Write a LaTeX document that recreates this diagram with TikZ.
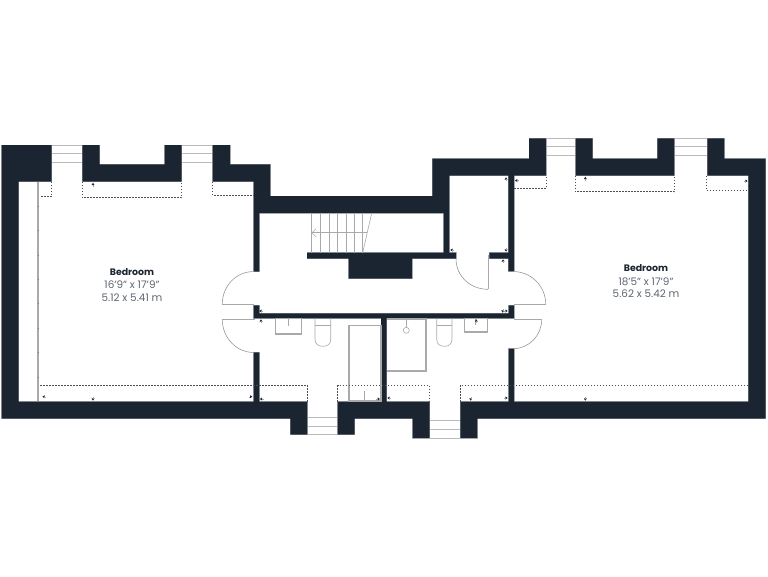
\documentclass[tikz,border=0pt]{standalone}
\usepackage{fontspec}
\setmainfont{Poppins}
\definecolor{wall}{HTML}{1B2431}
\definecolor{edge}{HTML}{B9BEC4}
\definecolor{fix}{HTML}{A9A9A9}
\definecolor{txt}{HTML}{5E6671}
\tikzset{
  wallfill/.style={fill=wall,preaction={draw=edge,line width=0.7pt}},
  fixture/.style={draw=fix,line width=0.6pt},
  fixturethick/.style={draw=fix,line width=1.4pt},
  recess/.style={draw=wall!80,line width=0.6pt,dash pattern=on 1.5pt off 1.5pt},
  winline/.style={draw=fix!80,line width=0.8pt},
  door/.style={draw=fix!90!black,line width=0.6pt},
  leaf/.style={draw=fix,line width=1.1pt},
  title/.style={font=\bfseries\fontsize{9.4}{11}\selectfont,text=wall,inner sep=0pt},
  dims/.style={font=\fontsize{10.4}{12}\selectfont,text=txt,inner sep=0pt},
}
\newcommand{\mk}[3]{\fill[wall,shift={(#1,#2)},rotate=#3] (1.7,0)--(-0.6,1.5)--(-0.6,-1.5)--cycle;\draw[fix,line width=0.3pt,shift={(#1,#2)},rotate=#3] (-0.4,0)--(-2,0);}
\begin{document}
\begin{tikzpicture}[x=1pt,y=-1pt]
\useasboundingbox (0,0) rectangle (768,576);
\fill[white] (0,0) rectangle (768,576);
% window frames
\foreach \xa/\xb/\ya/\yb/\yc in {51.7/82.3/145/153.3/162, 181.5/212.7/145/153.3/162, 546/575.7/138.3/146.7/155, 674.3/707.3/138.3/146.7/155, 307.3/337.7/417.3/426/434.7, 429.7/460.3/420.7/429.3/438}{
  \draw[winline] (\xa,\ya)--(\xb,\ya) (\xa,\yb)--(\xb,\yb) (\xa,\yc)--(\xb,\yc);
}
% walls
\path[wallfill]
 (1.5,145) rectangle (51.7,181.7)
 (1.5,145) rectangle (18.5,418.7)
 (1.5,401.5) rectangle (290.3,418.7)
 (290.3,401.5) rectangle (307.3,434.7)
 (337.7,401.5) rectangle (354.7,434.7)
 (337.7,401.5) rectangle (412.7,418.7)
 (412.7,401.5) rectangle (429.7,438)
 (460.3,401.5) rectangle (477.3,438)
 (460.3,401.5) rectangle (765.7,418.7)
 (748.3,158.5) rectangle (765.7,418.7)
 (707.3,138.3) rectangle (724.3,175.7)
 (707.3,158.5) rectangle (765.7,175.7)
 (575.7,138.3) rectangle (592.7,175.7)
 (657.3,138.3) rectangle (674.3,175.7)
 (575.7,158.5) rectangle (674.3,175.7)
 (529,138.3) rectangle (546,175.7)
 (432.3,158.5) rectangle (546,175.7)
 (432.3,158.5) rectangle (449.3,213)
 (253.7,196) rectangle (449.3,213)
 (253.7,181) rectangle (270.3,213)
 (212.7,145) rectangle (230,181.7)
 (212.7,164.3) rectangle (270.3,181.7)
 (82.3,145) rectangle (99.5,181.7)
 (164.5,145) rectangle (181.5,181.7)
 (82.3,164.3) rectangle (181.5,181.7)
 (253.7,181) rectangle (259.3,271.5)
 (443.7,213) rectangle (449.3,258.7)
 (508.3,175) rectangle (514,271.3)
 (307,252.7) rectangle (456,258.7)
 (489.3,252.7) rectangle (508.3,258.7)
 (348.7,258.7) rectangle (412,278.7)
 (253.7,313.3) rectangle (514,318.3)
 (253.7,305.3) rectangle (259.3,318.3)
 (508.7,305.3) rectangle (514,318.3)
 (253.7,352.3) rectangle (259.3,401.7)
 (508.7,348.7) rectangle (514,401.7)
 (381,318) rectangle (386.7,401.7);
% partition on left
\draw[fix,line width=2pt] (38.3,181.7)--(38.3,401.3);
\foreach \y in {206,230.5,255,279,303.5,328,352.5,377}{\draw[fix!70!black,line width=0.4pt] (37.6,\y)--(39,\y);}
% stairs
\foreach \x in {311.7,320.3,329,337.3,346,354.7,362.7}{\draw[fixture] (\x,213)--(\x,252.7);}
\draw[fixture] (371.7,213)--(362.7,252.7);
\draw[fixture] (312,232.7)--(366.7,232.7);
\draw[fixture] (316,228.7)--(312,232.7)--(316,236.7);
% doors
\draw[door] (222.3,304) .. controls (222.3,286) and (236,271.5) .. (254,271.5);
\draw[door] (222.3,319.5) .. controls (222.3,337.5) and (236,352.5) .. (254,352.5);
\draw[door] (545.7,304) .. controls (545.7,286) and (531,271.5) .. (513,271.5);
\draw[door] (541.7,319.5) .. controls (541.7,335.5) and (529,348.7) .. (513,348.7);
\draw[door] (456,258.7) .. controls (456,276) and (470,289.3) .. (488,289.3);
\draw[leaf] (222.3,304.3)--(254,304.3);
\draw[leaf] (222.3,319.5)--(255,319.5);
\draw[leaf] (514,304.3)--(545.7,304.3);
\draw[leaf] (514,319.5)--(541.7,319.5);
\draw[leaf] (488.5,255)--(488.5,289.3);
% sinks
\draw[fixturethick] (275.7,318.6) rectangle (301.7,334);
\draw[fixture] (288.7,318.3)--(288.7,326);
\draw[fixturethick] (464.7,318.6) rectangle (487.7,332);
\draw[fixture] (475.3,318.3)--(475.3,325);
% toilets
\foreach \xa/\xb in {315/330.7,436.7/452}{
  \draw[fixture] (\xa,318.3)--(\xa,339) .. controls (\xa,344) and (\xa+3,346.3) .. (\xa/2+\xb/2,346.3) .. controls (\xb-3,346.3) and (\xb,344) .. (\xb,339)--(\xb,318.3);
  \draw[fixture] (\xa,325)--(\xb,325);
}
% bath
\draw[fixturethick] (349,325.7) rectangle (381,401);
\draw[fixture] (364.7,391)--(364.7,401);
% shower
\draw[fixturethick] (386.7,319) -- (426,319) -- (426,371) -- (386.7,371);
\draw[fixture] (406.3,318.3)--(406.3,327.3);
\draw[fixture] (406.3,330.3) circle (3);
% dashed recesses
\draw[recess] (51.7,181.7)--(51.7,196.7)--(40.7,196.7);
\draw[recess] (82.3,181.7)--(82.3,197.7)--(181.7,197.7)--(181.7,181.7);
\draw[recess] (212.7,181.7)--(212.7,195.3)--(253.5,195.3);
\draw[recess] (40,385.7)--(307.7,385.7)--(307.7,401.5);
\draw[recess] (337.7,401.5)--(337.7,385.7)--(429.7,385.7)--(429.7,401.5);
\draw[recess] (460.3,401.5)--(460.3,384.8)--(748.3,384.8);
\draw[recess] (514,188.3)--(546,188.3)--(546,175.7);
\draw[recess] (575,175.7)--(575,191.7)--(674.3,191.7)--(674.3,175.7);
\draw[recess] (706.7,175.7)--(706.7,190.7)--(748.3,190.7);
% small markers
\mk{93}{184.5}{90}
\mk{44}{396.7}{180}
\mk{93}{399}{270}
\mk{250.7}{396.7}{0}
\mk{261.5}{399}{180}
\mk{378.3}{399}{0}
\mk{389}{398}{180}
\mk{470.7}{399}{270}
\mk{506}{398}{0}
\mk{585.3}{399}{270}
\mk{261}{311}{180}
\mk{261}{321}{90}
\mk{502.7}{311}{270}
\mk{506}{311}{0}
\mk{476.3}{321}{90}
\mk{506}{179}{90}
\mk{516.7}{180.5}{180}
\mk{452}{250}{180}
\mk{506}{250}{270}
\mk{503}{261}{90}
\mk{585.3}{178.5}{90}
\mk{746}{181}{0}
% labels
\node[title] (bedL) at (132,271.7) {Bedroom};
\node[dims] (sizeLa) at (132,285) {16'9" x 17'9"};
\node[dims] (sizeLb) at (132,297.3) {5.12 x 5.41 m};
\node[title] (bedR) at (646,268) {Bedroom};
\node[dims] (sizeRa) at (646,281.5) {18'5" x 17'9"};
\node[dims] (sizeRb) at (646,293.5) {5.62 x 5.42 m};
\end{tikzpicture}
\end{document}
